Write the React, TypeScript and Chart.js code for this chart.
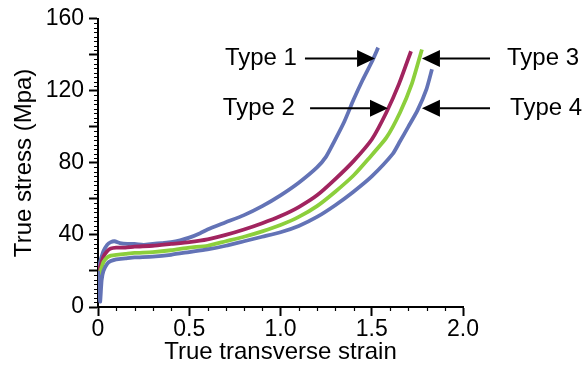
import React, { useEffect, useRef } from "react";
import { Chart, registerables } from "chart.js";

Chart.register(...registerables);

// ---- Data ----
const type1Strain = [0, 0.005, 0.01, 0.02, 0.03, 0.05, 0.07, 0.09, 0.12, 0.16, 0.2, 0.25, 0.3, 0.35, 0.4, 0.45, 0.5, 0.56, 0.6, 0.7, 0.8, 0.9, 1.0, 1.1, 1.2, 1.25, 1.29, 1.35, 1.4, 1.45, 1.5, 1.535];
const type1Stress = [22, 14, 24, 28, 31, 34.5, 36, 36.5, 35.5, 35, 35, 34.5, 35, 35.5, 36, 37, 38.5, 41, 43, 47, 51, 56, 62, 69, 77.5, 83.5, 91, 103, 115, 126, 136, 144];

const type2Strain = [0, 0.01, 0.02, 0.03, 0.05, 0.07, 0.1, 0.15, 0.2, 0.3, 0.4, 0.5, 0.6, 0.7, 0.8, 0.9, 1.0, 1.1, 1.2, 1.3, 1.4, 1.5, 1.58, 1.65, 1.715];
const type2Stress = [20, 22, 25, 28, 31, 32.5, 33, 33, 33.5, 34, 35, 36, 37.5, 40, 43, 46.5, 50.5, 55.5, 62, 71, 81, 93, 108, 124, 142];

const type3Strain = [0, 0.01, 0.02, 0.03, 0.05, 0.07, 0.1, 0.15, 0.2, 0.3, 0.4, 0.5, 0.6, 0.7, 0.8, 0.9, 1.0, 1.1, 1.2, 1.3, 1.4, 1.48, 1.58, 1.655, 1.72, 1.775];
const type3Stress = [17, 19, 22, 25, 27.5, 28.5, 29, 29.5, 30, 30.5, 31.5, 33, 34, 36.5, 39, 42, 45.5, 50, 56, 64, 73, 82, 94, 108, 124, 143];

const type4Strain = [0, 0.008, 0.012, 0.02, 0.03, 0.05, 0.07, 0.1, 0.15, 0.2, 0.3, 0.4, 0.5, 0.6, 0.7, 0.8, 0.9, 1.0, 1.1, 1.2, 1.3, 1.4, 1.5, 1.615, 1.655, 1.7, 1.75, 1.8, 1.83];
const type4Stress = [20, 8, 3, 15, 20, 24, 25.5, 26.5, 27, 27.5, 28, 29, 30.5, 32, 34, 36.5, 39, 41.5, 45, 50, 56.5, 64, 72.5, 85, 92, 100, 109, 121, 132];

const xTickValues = [0, 0.5, 1.0, 1.5, 2.0];
const yTickLabels = [0, 40, 80, 120, 160];

const seriesNames = ["Type 1", "Type 2", "Type 3", "Type 4"];

// Annotation labels with arrows (data units)
const annotations = [
  { text: "Type 1", side: "left", textX: 1.09, tailX: 1.134, tipX: 1.518, y: 138 },
  { text: "Type 2", side: "left", textX: 1.079, tailX: 1.162, tipX: 1.589, y: 110.3 },
  { text: "Type 3", side: "right", textX: 2.241, tailX: 2.148, tipX: 1.775, y: 138 },
  { text: "Type 4", side: "right", textX: 2.258, tailX: 2.148, tipX: 1.775, y: 110.3 },
];

const FONT = "'Liberation Sans', Arial, Helvetica, sans-serif";
const BLUE = "#6373b6";
const MAGENTA = "#a1245f";
const GREEN = "#8ccf3c";

const zip = (xs: number[], ys: number[]) => xs.map((x, i) => ({ x, y: ys[i] }));

const minorTicksPlugin = {
  id: "minorTicks",
  afterDraw(chart: any) {
    const ctx = chart.ctx;
    const xs = chart.scales.x;
    const ys = chart.scales.y;
    const area = chart.chartArea;
    ctx.save();
    ctx.strokeStyle = "#000";
    ctx.lineWidth = 1.2;
    ctx.beginPath();
    for (let i = 1; i < 20; i++) {
      if (i % 5 === 0) continue;
      const px = Math.round(xs.getPixelForValue(i * 0.1)) + 0.5;
      ctx.moveTo(px, area.bottom);
      ctx.lineTo(px, area.bottom + 4);
    }
    for (let i = 1; i < 64; i++) {
      if (i % 8 === 0) continue;
      const py = Math.round(ys.getPixelForValue(i * 2.5)) + 0.5;
      ctx.moveTo(area.left - 4, py);
      ctx.lineTo(area.left, py);
    }
    ctx.stroke();
    ctx.restore();
  },
};

const arrowsPlugin = {
  id: "arrowLabels",
  afterDraw(chart: any) {
    const ctx = chart.ctx;
    const xs = chart.scales.x;
    const ys = chart.scales.y;
    ctx.save();
    ctx.fillStyle = "#000";
    ctx.strokeStyle = "#000";
    ctx.lineWidth = 2;
    ctx.font = `24px ${FONT}`;
    ctx.textBaseline = "middle";
    for (const a of annotations) {
      const y = ys.getPixelForValue(a.y);
      const tail = xs.getPixelForValue(a.tailX);
      const tip = xs.getPixelForValue(a.tipX);
      const tx = xs.getPixelForValue(a.textX);
      const dir = tip > tail ? 1 : -1;
      const headLen = 18;
      const headHalf = 8.5;
      ctx.beginPath();
      ctx.moveTo(tail, y);
      ctx.lineTo(tip - dir * headLen, y);
      ctx.stroke();
      ctx.beginPath();
      ctx.moveTo(tip, y);
      ctx.lineTo(tip - dir * headLen, y - headHalf);
      ctx.lineTo(tip - dir * headLen, y + headHalf);
      ctx.closePath();
      ctx.fill();
      ctx.textAlign = a.side === "left" ? "right" : "left";
      ctx.fillText(a.text, tx, y);
    }
    ctx.restore();
  },
};

export default function App() {
  const ref = useRef<HTMLCanvasElement | null>(null);

  useEffect(() => {
    if (!ref.current) return;
    const line = (label: string, data: any[], color: string) => ({
      label,
      data,
      borderColor: color,
      backgroundColor: color,
      borderWidth: 3.8,
      pointRadius: 0,
      tension: 0.2,
      fill: false,
    });
    const chart = new Chart(ref.current, {
      type: "line",
      data: {
        datasets: [
          line(seriesNames[3], zip(type4Strain, type4Stress), BLUE),
          line(seriesNames[2], zip(type3Strain, type3Stress), GREEN),
          line(seriesNames[1], zip(type2Strain, type2Stress), MAGENTA),
          line(seriesNames[0], zip(type1Strain, type1Stress), BLUE),
        ],
      },
      options: {
        animation: false,
        responsive: false,
        maintainAspectRatio: false,
        layout: { padding: { top: 17, right: 120, bottom: 0, left: 0 } },
        plugins: {
          legend: { display: false },
          tooltip: { enabled: false },
        },
        scales: {
          x: {
            type: "linear",
            min: 0,
            max: 2,
            afterFit: (s: any) => {
              s.height = 60;
            },
            afterBuildTicks: (s: any) => {
              s.ticks = xTickValues.map((v) => ({ value: v }));
            },
            ticks: {
              color: "#000",
              font: { family: FONT, size: 23 },
              padding: 0,
              maxRotation: 0,
              callback: (v: any) => (Number(v) === 0 ? "0" : Number(v).toFixed(1)),
            },
            grid: {
              drawOnChartArea: false,
              color: "#000",
              tickLength: 9,
              tickWidth: 2,
            },
            border: { color: "#000", width: 2 },
            title: {
              display: true,
              text: "True transverse strain",
              color: "#000",
              font: { family: FONT, size: 24 },
              padding: { top: 0, bottom: 0 },
            },
          },
          y: {
            type: "linear",
            min: 0,
            max: 160,
            afterFit: (s: any) => {
              s.width = 98;
            },
            ticks: {
              stepSize: 20,
              color: "#000",
              font: { family: FONT, size: 23 },
              padding: 5,
              callback: (v: any) => (yTickLabels.includes(Number(v)) ? String(v) : ""),
            },
            grid: {
              drawOnChartArea: false,
              color: "#000",
              tickLength: 9,
              tickWidth: 2,
            },
            border: { color: "#000", width: 2 },
            title: {
              display: true,
              text: "True stress (Mpa)",
              color: "#000",
              font: { family: FONT, size: 24 },
              padding: { top: 10, bottom: 0 },
            },
          },
        },
      },
      plugins: [minorTicksPlugin, arrowsPlugin],
    } as any);
    return () => chart.destroy();
  }, []);

  return (
    <div style={{ position: "fixed", left: 0, top: 0, width: 583, height: 367, background: "#fff" }}>
      <canvas ref={ref} width={583} height={367} style={{ display: "block" }} />
    </div>
  );
}
